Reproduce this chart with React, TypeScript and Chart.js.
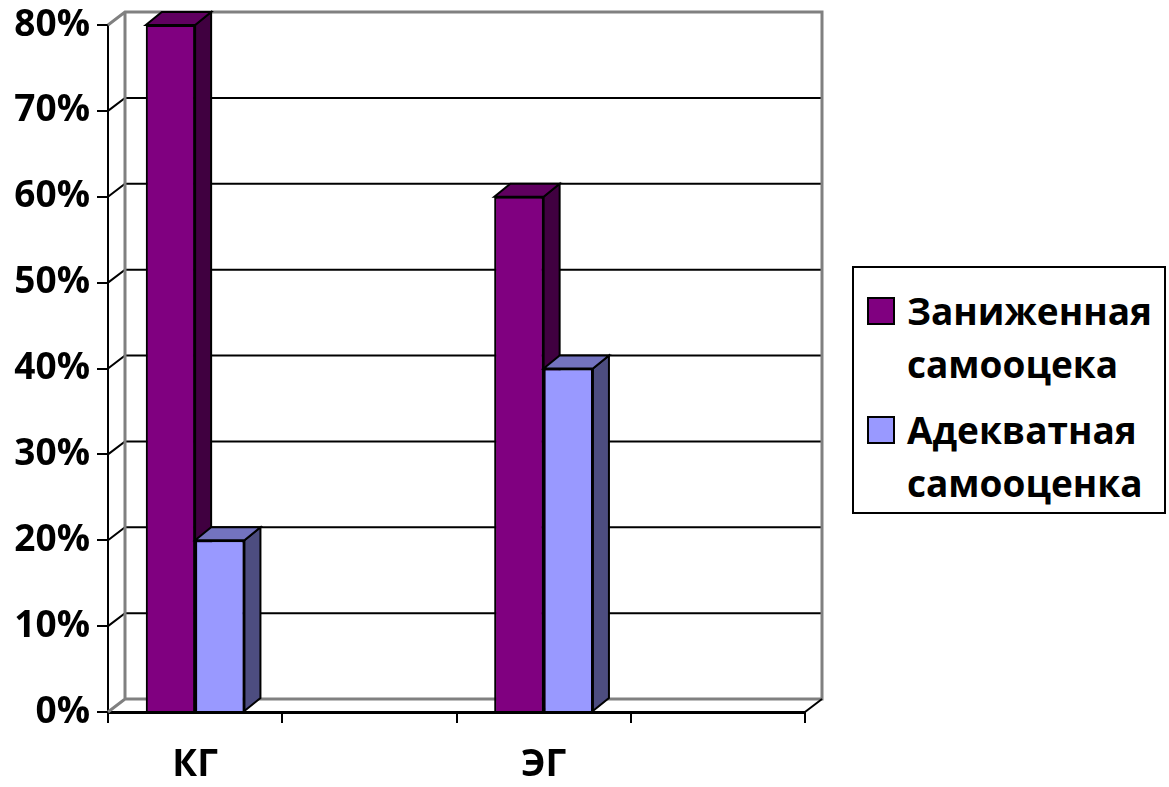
import React, { useEffect, useRef } from "react";
import { Chart, registerables } from "chart.js";

Chart.register(...registerables);

const categories = ["КГ", "", "ЭГ", ""];
const seriesNames = ["Заниженная самооцека", "Адекватная самооценка"];
const lowSelfEsteem = [0.8, null, 0.6, null];
const adequateSelfEsteem = [0.2, null, 0.4, null];
const yMin = 0;
const yMax = 0.8;
const yStep = 0.1;

const FONT = "'Open Sans', 'DejaVu Sans', sans-serif";
const frontColors = ["#800080", "#9999FF"];
const topColors = ["#600060", "#7373BF"];
const sideColors = ["#400040", "#4D4D80"];

const BDX = 16;
const BDY = 13;
const WDX = 17;
const WDY = 13;

function poly(ctx: CanvasRenderingContext2D, pts: number[][], fill: string) {
  ctx.beginPath();
  ctx.moveTo(pts[0][0], pts[0][1]);
  for (let i = 1; i < pts.length; i++) ctx.lineTo(pts[i][0], pts[i][1]);
  ctx.closePath();
  ctx.fillStyle = fill;
  ctx.fill();
  ctx.lineWidth = 2;
  ctx.strokeStyle = "#000";
  ctx.lineJoin = "miter";
  ctx.stroke();
}

const wallsPlugin = {
  id: "walls3d",
  beforeDatasetsDraw(chart: any) {
    const { ctx, chartArea: a } = chart;
    const y = chart.scales.y;
    ctx.save();
    const vals: number[] = y.ticks.map((t: any) => t.value);
    vals.forEach((v) => {
      const edge = Math.abs(v - yMin) < 1e-9 || Math.abs(v - yMax) < 1e-9;
      if (edge) return;
      const py = y.getPixelForValue(v);
      ctx.strokeStyle = "#000";
      ctx.lineWidth = 2;
      ctx.beginPath();
      ctx.moveTo(a.left, py);
      ctx.lineTo(a.left + WDX, py - WDY);
      ctx.lineTo(a.right + WDX, py - WDY);
      ctx.stroke();
    });
    const top = y.getPixelForValue(yMax);
    const bot = y.getPixelForValue(yMin);
    ctx.strokeStyle = "#808080";
    ctx.lineWidth = 3;
    ctx.beginPath();
    ctx.moveTo(a.left, top);
    ctx.lineTo(a.left + WDX, top - WDY);
    ctx.lineTo(a.right + WDX, top - WDY);
    ctx.lineTo(a.right + WDX, bot - WDY);
    ctx.lineTo(a.left + WDX, bot - WDY);
    ctx.lineTo(a.left, bot);
    ctx.moveTo(a.left + WDX, top - WDY);
    ctx.lineTo(a.left + WDX, bot - WDY);
    ctx.stroke();
    ctx.strokeStyle = "#000";
    ctx.lineWidth = 2;
    ctx.beginPath();
    ctx.moveTo(a.right, bot);
    ctx.lineTo(a.right + WDX, bot - WDY);
    ctx.stroke();
    ctx.restore();
  },
  afterDatasetsDraw(chart: any) {
    const ctx = chart.ctx;
    ctx.save();
    chart.data.datasets.forEach((ds: any, di: number) => {
      const meta = chart.getDatasetMeta(di);
      meta.data.forEach((el: any, i: number) => {
        if (ds.data[i] == null) return;
        el.draw(ctx);
        const { x, y, base, width } = el.getProps(["x", "y", "base", "width"], true);
        const l = x - width / 2;
        const r = x + width / 2;
        poly(ctx, [[r, y], [r + BDX, y - BDY], [r + BDX, base - BDY], [r, base]], sideColors[di]);
        poly(ctx, [[l, y], [l + BDX, y - BDY], [r + BDX, y - BDY], [r, y]], topColors[di]);
      });
    });
    ctx.restore();
  },
};

export default function App() {
  const ref = useRef<HTMLCanvasElement>(null);
  useEffect(() => {
    if (!ref.current) return;
    const chart = new Chart(ref.current, {
      type: "bar",
      data: {
        labels: categories,
        datasets: [
          {
            label: seriesNames[0],
            data: lowSelfEsteem,
            backgroundColor: frontColors[0],
            borderColor: "#000",
            borderWidth: 2,
            categoryPercentage: 0.566,
            barPercentage: 1,
          },
          {
            label: seriesNames[1],
            data: adequateSelfEsteem,
            backgroundColor: frontColors[1],
            borderColor: "#000",
            borderWidth: 2,
            categoryPercentage: 0.566,
            barPercentage: 1,
          },
        ],
      },
      options: {
        animation: false,
        responsive: false,
        devicePixelRatio: 1,
        layout: { padding: { left: 0, right: 364, top: 25, bottom: 0 } },
        plugins: { legend: { display: false }, tooltip: { enabled: false } },
        scales: {
          x: {
            offset: true,
            afterFit: (s: any) => {
              s.height = 75;
              s.paddingLeft = 0;
              s.paddingRight = 0;
            },
            grid: {
              offset: true,
              drawOnChartArea: false,
              drawTicks: true,
              tickLength: 11,
              color: "#000",
              lineWidth: 2,
            },
            border: { display: true, color: "#000", width: 3 },
            ticks: {
              autoSkip: false,
              maxRotation: 0,
              color: "#000",
              padding: 20,
              font: { family: FONT, size: 37, weight: "bold" },
            },
          },
          y: {
            min: yMin,
            max: yMax,
            afterFit: (s: any) => {
              s.width = 108;
              s.paddingTop = 0;
              s.paddingBottom = 0;
            },
            grid: {
              drawOnChartArea: false,
              drawTicks: true,
              tickLength: 11,
              color: "#000",
              lineWidth: 2,
            },
            border: { display: true, color: "#000", width: 2 },
            ticks: {
              stepSize: yStep,
              color: "#000",
              padding: 7,
              font: { family: FONT, size: 37, weight: "bold" },
              callback: (v: any) => Math.round(Number(v) * 100) + "%",
            },
          },
        },
      },
      plugins: [wallsPlugin],
    });
    return () => chart.destroy();
  }, []);

  const textStyle: React.CSSProperties = {
    position: "absolute",
    left: 53,
    fontFamily: FONT,
    fontWeight: 700,
    fontSize: 37,
    lineHeight: "37px",
    whiteSpace: "nowrap",
    color: "#000",
  };
  const swatch = (top: number, color: string): React.CSSProperties => ({
    position: "absolute",
    left: 13,
    top,
    width: 28,
    height: 28,
    boxSizing: "border-box",
    border: "2px solid #000",
    background: color,
  });

  return (
    <div style={{ position: "absolute", left: 0, top: 0, width: 1169, height: 787, background: "#fff", overflow: "hidden" }}>
      <canvas ref={ref} width={1169} height={787} style={{ position: "absolute", left: 0, top: 0 }} />
      <div
        style={{
          position: "absolute",
          left: 852,
          top: 266,
          width: 314,
          height: 248,
          boxSizing: "border-box",
          border: "2px solid #000",
          background: "#fff",
        }}
      >
        <div style={swatch(29, frontColors[0])} />
        <div style={{ ...textStyle, top: 290 - 266 }}>Заниженная</div>
        <div style={{ ...textStyle, top: 343 - 266 }}>самооцека</div>
        <div style={swatch(148, frontColors[1])} />
        <div style={{ ...textStyle, top: 409 - 266 }}>Адекватная</div>
        <div style={{ ...textStyle, top: 462 - 266 }}>самооценка</div>
      </div>
    </div>
  );
}
